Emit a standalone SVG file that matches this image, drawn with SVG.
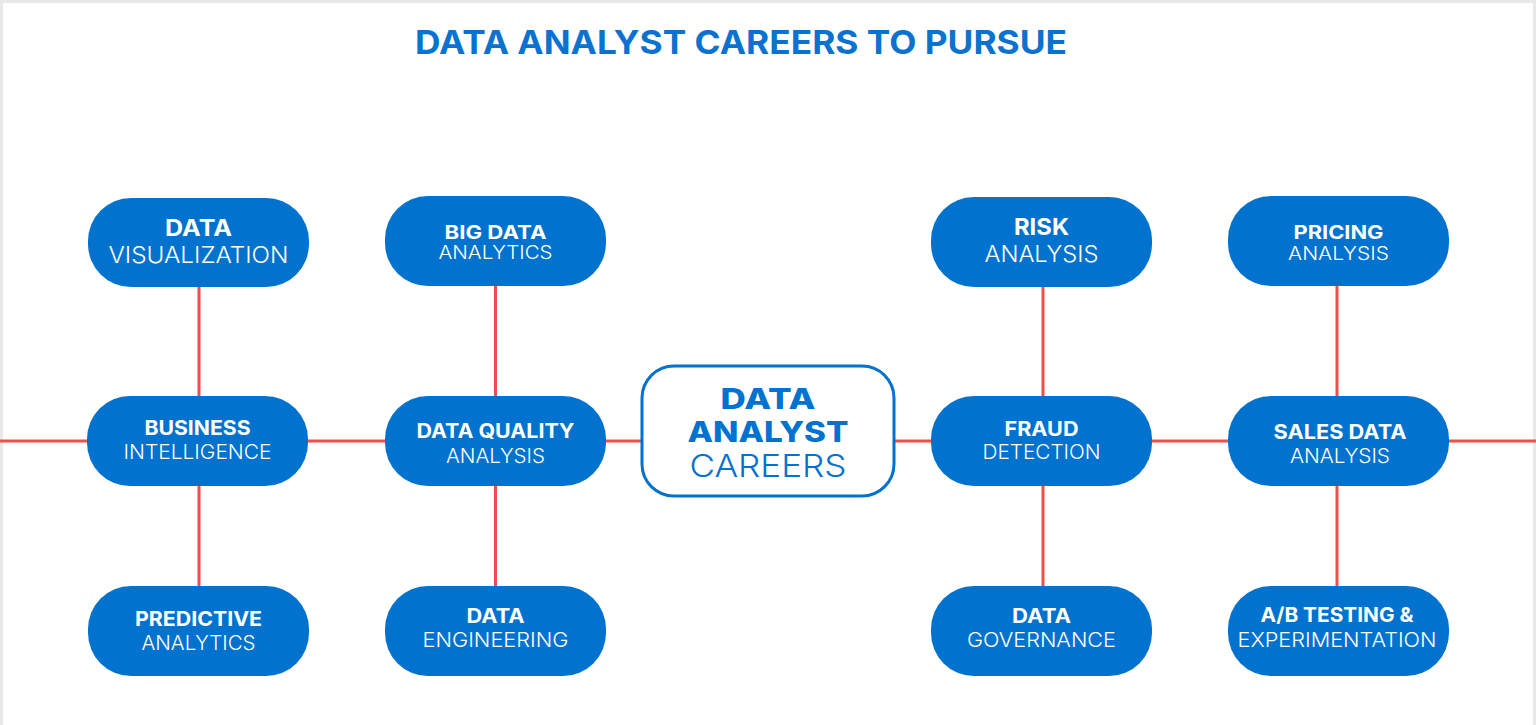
<svg xmlns="http://www.w3.org/2000/svg" width="1536" height="725" viewBox="0 0 1536 725">
<style>
.node{fill:#0172CE;}
.b{font-family:Inter,"Open Sans","Liberation Sans",sans-serif;font-weight:700;fill:#ffffff;text-anchor:middle;}
.l{font-family:Inter,"Open Sans","Liberation Sans",sans-serif;font-weight:300;fill:#ffffff;text-anchor:middle;}
.conn{stroke:#EF4F48;stroke-width:3;fill:none;}
.title{font-family:Inter,"Open Sans","Liberation Sans",sans-serif;font-weight:700;fill:#0B72CF;}
.cb{font-family:Inter,"Open Sans","Liberation Sans",sans-serif;font-weight:800;fill:#0172CE;text-anchor:middle;}
.cl{font-family:Inter,"Open Sans","Liberation Sans",sans-serif;font-weight:300;fill:#0172CE;text-anchor:middle;}
</style>
<rect x="0" y="0" width="1536" height="725" fill="#ffffff"/>
<g id="frame" fill="#E8E8E8">
<rect x="0" y="0" width="1536" height="3"/>
<rect x="0" y="0" width="3" height="725"/>
<rect x="1533" y="0" width="3" height="725"/>
</g>
<text id="title" class="title" x="415" y="54" font-size="33" textLength="652" lengthAdjust="spacingAndGlyphs">DATA ANALYST CAREERS TO PURSUE</text>
<g id="connectors">
<line class="conn" x1="0" y1="441" x2="1536" y2="441"/>
<line class="conn" x1="199" y1="287" x2="199" y2="586"/>
<line class="conn" x1="495.5" y1="286" x2="495.5" y2="586"/>
<line class="conn" x1="1043" y1="287" x2="1043" y2="586"/>
<line class="conn" x1="1337" y1="286" x2="1337" y2="586"/>
</g>
<g id="node-data-visualization">
<rect class="node" x="88" y="198" width="221" height="89" rx="43"/>
<text class="b" x="198.5" y="236" font-size="22.5" textLength="67" lengthAdjust="spacingAndGlyphs">DATA</text>
<text class="l" x="198.5" y="263" font-size="22.5" textLength="180" lengthAdjust="spacingAndGlyphs">VISUALIZATION</text>
</g>
<g id="node-big-data-analytics">
<rect class="node" x="385" y="196" width="221" height="90" rx="43"/>
<text class="b" x="495.5" y="239" font-size="18.5" textLength="102" lengthAdjust="spacingAndGlyphs">BIG DATA</text>
<text class="l" x="495.5" y="259" font-size="18.5" textLength="114" lengthAdjust="spacingAndGlyphs">ANALYTICS</text>
</g>
<g id="node-business-intelligence">
<rect class="node" x="87" y="396" width="221" height="90" rx="43"/>
<text class="b" x="197.5" y="435" font-size="20" textLength="106" lengthAdjust="spacingAndGlyphs">BUSINESS</text>
<text class="l" x="197.5" y="459" font-size="20" textLength="148" lengthAdjust="spacingAndGlyphs">INTELLIGENCE</text>
</g>
<g id="node-data-quality-analysis">
<rect class="node" x="385" y="396" width="221" height="90" rx="43"/>
<text class="b" x="495.5" y="438" font-size="20" textLength="158" lengthAdjust="spacingAndGlyphs">DATA QUALITY</text>
<text class="l" x="495.5" y="462.5" font-size="20" textLength="99" lengthAdjust="spacingAndGlyphs">ANALYSIS</text>
</g>
<g id="node-predictive-analytics">
<rect class="node" x="88" y="586" width="221" height="90" rx="43"/>
<text class="b" x="198.5" y="626" font-size="20" textLength="127" lengthAdjust="spacingAndGlyphs">PREDICTIVE</text>
<text class="l" x="198.5" y="650" font-size="20" textLength="114" lengthAdjust="spacingAndGlyphs">ANALYTICS</text>
</g>
<g id="node-data-engineering">
<rect class="node" x="385" y="586" width="221" height="90" rx="43"/>
<text class="b" x="495.5" y="622.5" font-size="20" textLength="58" lengthAdjust="spacingAndGlyphs">DATA</text>
<text class="l" x="495.5" y="646.5" font-size="20" textLength="146" lengthAdjust="spacingAndGlyphs">ENGINEERING</text>
</g>
<g id="node-data-analyst-careers">
<rect x="642" y="366" width="252" height="130" rx="32" fill="#ffffff" stroke="#0172CE" stroke-width="3"/>
<text class="cb" x="768" y="409" font-size="28" textLength="95" lengthAdjust="spacingAndGlyphs">DATA</text>
<text class="cb" x="768" y="442" font-size="28" textLength="161" lengthAdjust="spacingAndGlyphs">ANALYST</text>
<text class="cl" x="768" y="477" font-size="31" textLength="157" lengthAdjust="spacingAndGlyphs">CAREERS</text>
</g>
<g id="node-risk-analysis">
<rect class="node" x="931" y="197" width="221" height="90" rx="43"/>
<text class="b" x="1041.5" y="235" font-size="22.5" textLength="55" lengthAdjust="spacingAndGlyphs">RISK</text>
<text class="l" x="1041.5" y="262" font-size="22.5" textLength="114" lengthAdjust="spacingAndGlyphs">ANALYSIS</text>
</g>
<g id="node-pricing-analysis">
<rect class="node" x="1228" y="196" width="221" height="90" rx="43"/>
<text class="b" x="1338.5" y="239" font-size="18.5" textLength="90" lengthAdjust="spacingAndGlyphs">PRICING</text>
<text class="l" x="1338.5" y="259.5" font-size="18.5" textLength="101" lengthAdjust="spacingAndGlyphs">ANALYSIS</text>
</g>
<g id="node-fraud-detection">
<rect class="node" x="931" y="396" width="221" height="90" rx="43"/>
<text class="b" x="1041.5" y="436" font-size="20" textLength="74" lengthAdjust="spacingAndGlyphs">FRAUD</text>
<text class="l" x="1041.5" y="459" font-size="20" textLength="118" lengthAdjust="spacingAndGlyphs">DETECTION</text>
</g>
<g id="node-sales-data-analysis">
<rect class="node" x="1228" y="396" width="221" height="90" rx="43"/>
<text class="b" x="1340" y="439" font-size="20" textLength="133" lengthAdjust="spacingAndGlyphs">SALES DATA</text>
<text class="l" x="1340" y="462.5" font-size="20" textLength="100" lengthAdjust="spacingAndGlyphs">ANALYSIS</text>
</g>
<g id="node-data-governance">
<rect class="node" x="931" y="586" width="221" height="90" rx="43"/>
<text class="b" x="1041.5" y="622.5" font-size="20" textLength="59" lengthAdjust="spacingAndGlyphs">DATA</text>
<text class="l" x="1041.5" y="646.5" font-size="20" textLength="149" lengthAdjust="spacingAndGlyphs">GOVERNANCE</text>
</g>
<g id="node-ab-testing">
<rect class="node" x="1228" y="586" width="221" height="90" rx="43"/>
<text class="b" x="1337" y="622" font-size="20" textLength="153" lengthAdjust="spacingAndGlyphs">A/B TESTING &amp;</text>
<text class="l" x="1337" y="646.5" font-size="20" textLength="199" lengthAdjust="spacingAndGlyphs">EXPERIMENTATION</text>
</g>
</svg>
